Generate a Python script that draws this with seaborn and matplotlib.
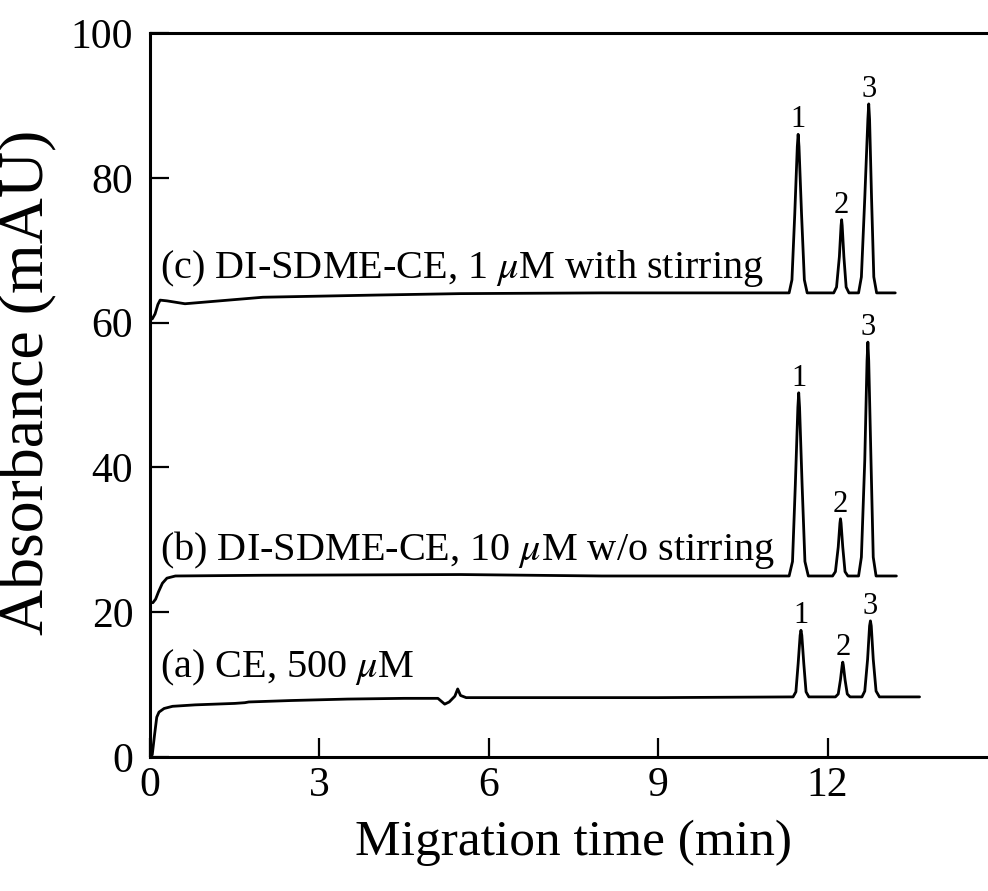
import numpy as np
import pandas as pd
import seaborn as sns
import matplotlib.pyplot as plt

# trace (a) CE, 500 uM
time_a = [0.04, 0.08, 0.12, 0.16, 0.25, 0.4, 0.8, 1.5, 1.68, 1.75, 2.5, 3.5, 4.5, 5.1,
          5.22, 5.3, 5.4, 5.45, 5.5, 5.6, 7.0, 9.0, 11.39, 11.44, 11.48, 11.515, 11.53,
          11.545, 11.58, 11.62, 11.67, 12.14, 12.19, 12.23, 12.26, 12.27, 12.28, 12.31,
          12.35, 12.40, 12.61, 12.66, 12.71, 12.745, 12.76, 12.775, 12.81, 12.86, 12.92, 13.63]
abs_a = [0.3, 3.0, 5.5, 6.2, 6.7, 7.0, 7.2, 7.4, 7.5, 7.6, 7.8, 8.0, 8.1, 8.1,
         7.3, 7.6, 8.4, 9.4, 8.5, 8.2, 8.2, 8.2, 8.3, 9.0, 12.9, 16.8, 17.5,
         16.8, 12.9, 9.0, 8.3, 8.3, 8.7, 10.7, 12.7, 13.1, 12.7, 10.7,
         8.7, 8.3, 8.3, 9.1, 13.5, 18.1, 18.8, 18.1, 13.5, 9.1, 8.3, 8.3]

# trace (b) DI-SDME-CE, 10 uM w/o stirring
time_b = [0.05, 0.1, 0.15, 0.22, 0.3, 0.45, 2.0, 5.5, 8.0, 11.32, 11.38, 11.43, 11.475,
          11.49, 11.505, 11.55, 11.6, 11.66, 12.09, 12.14, 12.19, 12.22, 12.23, 12.24,
          12.27, 12.31, 12.36, 12.55, 12.6, 12.66, 12.70, 12.715, 12.73, 12.77, 12.81,
          12.86, 13.22]
abs_b = [21.3, 21.8, 22.8, 24.0, 24.7, 25.0, 25.1, 25.2, 25.0, 25.0, 27.0, 37.6, 48.3,
         50.3, 48.3, 37.6, 27.0, 25.0, 25.0, 25.6, 29.0, 32.3, 32.9, 32.3,
         29.0, 25.6, 25.0, 25.0, 27.6, 41.0, 54.7, 57.3, 54.7, 41.0, 27.6,
         25.0, 25.0]

# trace (c) DI-SDME-CE, 1 uM with stirring
time_c = [0.04, 0.09, 0.14, 0.18, 0.3, 0.62, 2.0, 4.0, 5.5, 8.0, 11.32, 11.37, 11.42,
          11.465, 11.48, 11.495, 11.54, 11.59, 11.64, 12.11, 12.16, 12.21, 12.24, 12.25,
          12.26, 12.29, 12.33, 12.38, 12.55, 12.6, 12.66, 12.715, 12.73, 12.745, 12.78,
          12.82, 12.87, 13.2]
abs_c = [60.5, 61.2, 62.5, 63.1, 63.0, 62.6, 63.5, 63.8, 64.0, 64.1, 64.1, 65.9, 75.0,
         84.3, 86.0, 84.3, 75.0, 65.9, 64.1, 64.1, 64.9, 69.1, 73.4, 74.2,
         73.4, 69.1, 64.9, 64.1, 64.1, 66.3, 77.2, 88.1, 90.2, 88.1, 77.2,
         66.3, 64.1, 64.1]

# peak labels (time, apex height)
peak_names = ['1', '2', '3']
peak_time_a = [11.53, 12.27, 12.76]
peak_top_a = [17.5, 13.1, 18.8]
peak_time_b = [11.49, 12.23, 12.715]
peak_top_b = [50.3, 32.9, 57.3]
peak_time_c = [11.48, 12.25, 12.73]
peak_top_c = [86.0, 74.2, 90.2]

trace_labels = ['(a) CE, 500 $\\mu$M',
                '(b) DI-SDME-CE, 10 $\\mu$M w/o stirring',
                '(c) DI-SDME-CE, 1 $\\mu$M with stirring']
trace_label_y = [11.0, 27.2, 66.2]

df = pd.concat([
    pd.DataFrame({'time': time_a, 'absorbance': abs_a, 'trace': 'a'}),
    pd.DataFrame({'time': time_b, 'absorbance': abs_b, 'trace': 'b'}),
    pd.DataFrame({'time': time_c, 'absorbance': abs_c, 'trace': 'c'}),
])

sns.set_style('ticks')
plt.rcParams['font.family'] = ['Liberation Serif', 'DejaVu Serif']
plt.rcParams['mathtext.fontset'] = 'stix'
for key in ['text.color', 'axes.labelcolor', 'xtick.color', 'ytick.color', 'axes.edgecolor']:
    plt.rcParams[key] = 'black'

fig = plt.figure(figsize=(9.88, 8.91), dpi=100)
ax = fig.add_axes([0.1518, 0.1504, 0.8572, 0.8126])

sns.lineplot(data=df, x='time', y='absorbance', hue='trace',
             palette=['black', 'black', 'black'], estimator=None, sort=False,
             legend=False, linewidth=2.0, ax=ax)

for times, tops in [(peak_time_a, peak_top_a), (peak_time_b, peak_top_b),
                    (peak_time_c, peak_top_c)]:
    for name, t, top in zip(peak_names, times, tops):
        ax.text(t, top + 1.0, name, ha='center', va='baseline', fontsize=22)

for label, y in zip(trace_labels, trace_label_y):
    ax.text(0.17, y, label, ha='left', va='baseline', fontsize=29)

ax.set_xlim(0, 15)
ax.set_ylim(0, 100)
ax.set_xticks([0, 3, 6, 9, 12])
ax.set_yticks([0, 20, 40, 60, 80, 100])
ax.tick_params(direction='in', length=14, width=1.6, labelsize=30)
ax.tick_params(axis='x', pad=7)
ax.tick_params(axis='y', pad=12)
for side in ['left', 'bottom', 'top', 'right']:
    ax.spines[side].set_linewidth(2.2)
    ax.spines[side].set_visible(True)
ax.set_xlabel('Migration time (min)', fontsize=37, labelpad=10)
ax.set_ylabel('Absorbance (mAU)', fontsize=46)
ax.yaxis.set_label_coords(-0.109, 0.517)

fig.savefig('out.png', dpi=100)
